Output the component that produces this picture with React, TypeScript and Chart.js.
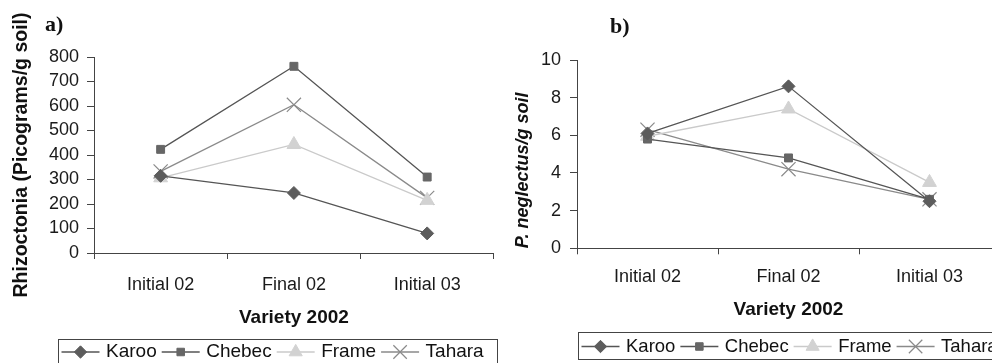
import React, { useEffect, useRef } from 'react';
import { Chart, registerables } from 'chart.js';
import { drawPoint } from 'chart.js/helpers';

Chart.register(...registerables);

// Sampling times and varieties
const categories = ['Initial 02', 'Final 02', 'Initial 03'];
const varieties = ['Karoo', 'Chebec', 'Frame', 'Tahara'];

// a) Rhizoctonia DNA (picograms/g soil)
const rhizoKaroo = [315, 245, 80];
const rhizoChebec = [423, 762, 310];
const rhizoFrame = [307, 443, 215];
const rhizoTahara = [333, 605, 225];

// b) Pratylenchus neglectus per g soil
const pratKaroo = [6.1, 8.6, 2.5];
const pratChebec = [5.8, 4.8, 2.6];
const pratFrame = [5.95, 7.4, 3.5];
const pratTahara = [6.3, 4.2, 2.6];

// Value axis ranges
const rhizoAxis = [0, 800, 100];
const pratAxis = [0, 10, 2];

const SANS = '"Liberation Sans", Arial, Helvetica, sans-serif';
const SERIF = '"Liberation Serif", "Times New Roman", serif';

type Style = { line: string; fill: string; stroke: string; shape: string; radius: number; bw: number };
const styles: Style[] = [
  { line: '#555555', fill: '#5c5c5c', stroke: '#5c5c5c', shape: 'rectRot', radius: 6.5, bw: 1 },
  { line: '#555555', fill: '#666666', stroke: '#666666', shape: 'rect', radius: 5.6, bw: 1 },
  { line: '#cacaca', fill: '#d2d2d2', stroke: '#d2d2d2', shape: 'triangle', radius: 8, bw: 1 },
  { line: '#8a8a8a', fill: 'rgba(0,0,0,0)', stroke: '#8a8a8a', shape: 'crossRot', radius: 10, bw: 1.2 },
];

function buildDatasets(series: number[][]) {
  return series.map((values, i) => {
    const s = styles[i];
    return {
      label: varieties[i],
      data: values,
      borderColor: s.line,
      borderWidth: 1.3,
      pointStyle: s.shape,
      pointRadius: s.radius,
      pointBackgroundColor: s.fill,
      pointBorderColor: s.stroke,
      pointBorderWidth: s.bw,
      fill: false,
      tension: 0,
    };
  });
}

// Panel letter and boxed legend with line + marker samples
const decorations = {
  id: 'decorations',
  afterDraw(chart: any, _args: any, opts: any) {
    const ctx = chart.ctx as CanvasRenderingContext2D;
    ctx.save();
    ctx.fillStyle = '#111';
    ctx.font = `bold ${opts.letterSize}px ${SERIF}`;
    ctx.textBaseline = 'alphabetic';
    ctx.textAlign = 'left';
    ctx.fillText(opts.letter, opts.letterX, opts.letterY);

    const box = opts.legend;
    ctx.strokeStyle = '#444';
    ctx.lineWidth = 1;
    ctx.strokeRect(box.x + 0.5, box.y + 0.5, box.w, box.h);
    ctx.font = `${box.fontSize}px ${SANS}`;
    ctx.textBaseline = 'middle';
    let x = box.x + box.padLeft;
    const y = box.textY;
    chart.data.datasets.forEach((ds: any) => {
      ctx.strokeStyle = ds.borderColor;
      ctx.lineWidth = ds.borderWidth;
      ctx.beginPath();
      ctx.moveTo(x, y);
      ctx.lineTo(x + 38, y);
      ctx.stroke();
      ctx.fillStyle = ds.pointBackgroundColor;
      ctx.strokeStyle = ds.pointBorderColor;
      ctx.lineWidth = ds.pointBorderWidth;
      drawPoint(ctx, { pointStyle: ds.pointStyle, radius: ds.pointRadius * 0.95, rotation: 0, borderWidth: ds.pointBorderWidth }, x + 19, y);
      x += 38 + 6.5;
      ctx.fillStyle = '#111';
      ctx.fillText(ds.label, x, y);
      x += ctx.measureText(ds.label).width + 5;
    });
    ctx.restore();
  },
};

type PanelCfg = {
  series: number[][];
  axis: number[];
  yTitle: string;
  yTitleFont: any;
  yTitleAlign: string;
  yTitlePad: number;
  yWidth: number;
  yTickPad: number;
  padding: { left: number; top: number; right: number; bottom: number };
  xHeight: number;
  xTickPad: number;
  xTitlePad: number;
  tickSize: number;
  catSize: number;
  decor: any;
};

function makeChart(canvas: HTMLCanvasElement, cfg: PanelCfg) {
  const [min, max, step] = cfg.axis;
  return new Chart(canvas, {
    type: 'line',
    data: { labels: categories, datasets: buildDatasets(cfg.series) as any },
    plugins: [decorations],
    options: {
      responsive: false,
      animation: false,
      devicePixelRatio: 1,
      layout: { padding: cfg.padding },
      plugins: {
        legend: { display: false },
        tooltip: { enabled: false },
        decorations: cfg.decor,
      } as any,
      scales: {
        x: {
          type: 'category',
          offset: true,
          afterFit: (s: any) => {
            s.height = cfg.xHeight;
          },
          grid: { display: true, offset: true, drawOnChartArea: false, drawTicks: true, tickLength: 6, color: '#444', lineWidth: 1 },
          border: { display: true, color: '#444', width: 1 },
          ticks: { color: '#1a1a1a', padding: cfg.xTickPad, font: { family: SANS, size: cfg.catSize }, maxRotation: 0, autoSkip: false },
          title: {
            display: true,
            text: 'Variety 2002',
            color: '#111',
            font: { family: SANS, size: 19, weight: 'bold' },
            padding: { top: 0, bottom: cfg.xTitlePad },
          },
        },
        y: {
          min,
          max,
          afterFit: (s: any) => {
            s.width = cfg.yWidth;
          },
          grid: { display: true, drawOnChartArea: false, drawTicks: true, tickLength: 7, color: '#444', lineWidth: 1 },
          border: { display: true, color: '#444', width: 1 },
          ticks: {
            stepSize: step,
            autoSkip: false,
            color: '#1a1a1a',
            padding: cfg.yTickPad,
            font: { family: SANS, size: cfg.tickSize },
          },
          title: {
            display: true,
            text: cfg.yTitle,
            color: '#111',
            align: cfg.yTitleAlign as any,
            font: cfg.yTitleFont,
            padding: { top: cfg.yTitlePad, bottom: 0 },
          },
        },
      },
    } as any,
  });
}

function Panel({ left, width, cfg }: { left: number; width: number; cfg: PanelCfg }) {
  const ref = useRef<HTMLCanvasElement>(null);
  useEffect(() => {
    if (!ref.current) return;
    const chart = makeChart(ref.current, cfg);
    return () => chart.destroy();
  }, []);
  return <canvas ref={ref} width={width} height={363} style={{ position: 'absolute', left, top: 0 }} />;
}

const panelA: PanelCfg = {
  series: [rhizoKaroo, rhizoChebec, rhizoFrame, rhizoTahara],
  axis: rhizoAxis,
  yTitle: 'Rhizoctonia (Picograms/g soil)',
  yTitleFont: { family: SANS, size: 19.5, weight: 'bold' },
  yTitleAlign: 'center',
  yTitlePad: 10,
  yWidth: 94,
  yTickPad: 8,
  padding: { left: 0, top: 57, right: 8, bottom: 30 },
  xHeight: 80,
  xTickPad: 15,
  xTitlePad: 3.5,
  tickSize: 18,
  catSize: 18,
  decor: {
    letter: 'a)',
    letterSize: 22,
    letterX: 45,
    letterY: 31,
    legend: { x: 58, y: 339, w: 439, h: 40, padLeft: 3.5, textY: 352, fontSize: 19 },
  },
};

const panelB: PanelCfg = {
  series: [pratKaroo, pratChebec, pratFrame, pratTahara],
  axis: pratAxis,
  yTitle: 'P. neglectus/g soil',
  yTitleFont: { family: SANS, size: 18, weight: 'bold', style: 'italic' },
  yTitleAlign: 'start',
  yTitlePad: 7,
  yWidth: 72,
  yTickPad: 9,
  padding: { left: 0, top: 60, right: 25, bottom: 34.7 },
  xHeight: 80,
  xTickPad: 12,
  xTitlePad: 7.5,
  tickSize: 18,
  catSize: 18,
  decor: {
    letter: 'b)',
    letterSize: 22,
    letterX: 105,
    letterY: 33,
    legend: { x: 73, y: 332, w: 500, h: 27, padLeft: 3.5, textY: 346.5, fontSize: 18.5 },
  },
};

export default function App() {
  return (
    <div style={{ position: 'fixed', left: 0, top: 0, width: 992, height: 363, overflow: 'hidden', background: '#fff' }}>
      <Panel left={0} width={505} cfg={panelA} />
      <Panel left={505} width={520} cfg={panelB} />
    </div>
  );
}
